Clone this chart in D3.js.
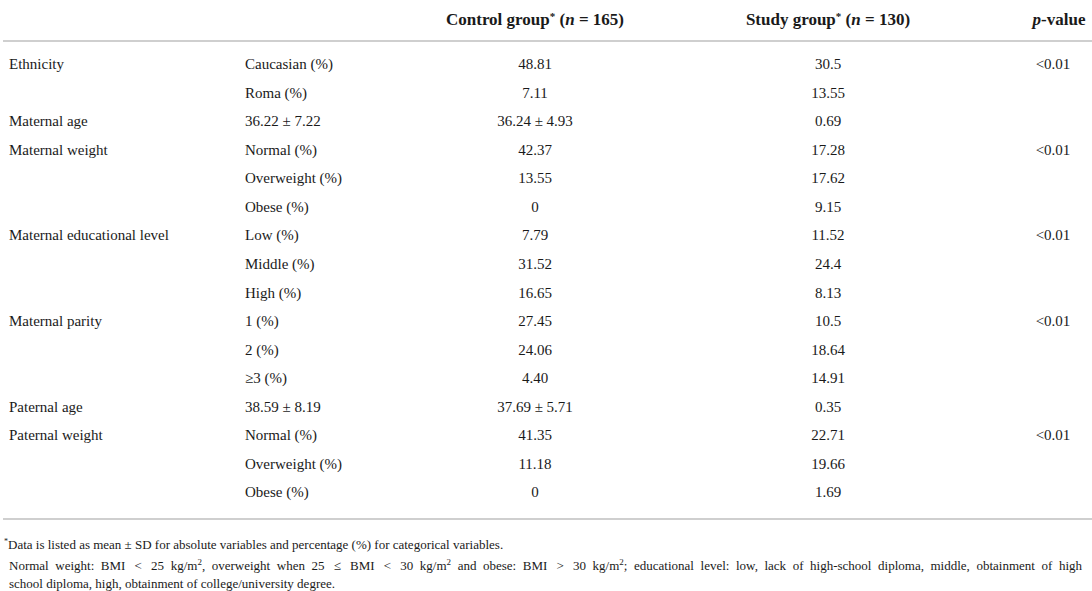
<!DOCTYPE html>
<html>
<head>
<meta charset="utf-8">
<script src="https://cdn.jsdelivr.net/npm/d3@7"></script>
<style>
  body { margin: 0; background: #fff; }
  text { font-family: "Liberation Serif", "DejaVu Serif", serif; fill: #1a1a1a; }
</style>
</head>
<body>
<svg class="tbl"></svg>
<script>
// Table contents
var variables = ["Ethnicity", "", "Maternal age", "Maternal weight", "", "",
    "Maternal educational level", "", "", "Maternal parity", "", "",
    "Paternal age", "Paternal weight", "", ""];
var categories = ["Caucasian (%)", "Roma (%)", "36.22 \u00b1 7.22", "Normal (%)", "Overweight (%)", "Obese (%)",
    "Low (%)", "Middle (%)", "High (%)", "1 (%)", "2 (%)", "\u22653 (%)",
    "38.59 \u00b1 8.19", "Normal (%)", "Overweight (%)", "Obese (%)"];
var controlValues = ["48.81", "7.11", "36.24 \u00b1 4.93", "42.37", "13.55", "0",
    "7.79", "31.52", "16.65", "27.45", "24.06", "4.40",
    "37.69 \u00b1 5.71", "41.35", "11.18", "0"];
var studyValues = ["30.5", "13.55", "0.69", "17.28", "17.62", "9.15",
    "11.52", "24.4", "8.13", "10.5", "18.64", "14.91",
    "0.35", "22.71", "19.66", "1.69"];
var pValues = ["<0.01", "", "", "<0.01", "", "",
    "<0.01", "", "", "<0.01", "", "",
    "", "<0.01", "", ""];
var controlN = 165, studyN = 130;

var w = 1092, h = 591;

var svg = d3.select(".tbl")
    .attr("width", w)
    .attr("height", h);

// row positions
var rows = d3.range(variables.length);
var yRow = d3.scalePoint()
    .domain(rows)
    .range([64, 492]);

// column anchors
var cols = [
    { key: "var", x: 9, anchor: "start", data: variables },
    { key: "cat", x: 245, anchor: "start", data: categories },
    { key: "ctl", x: 535, anchor: "middle", data: controlValues },
    { key: "stu", x: 828, anchor: "middle", data: studyValues },
    { key: "p", x: 1053, anchor: "middle", data: pValues }
];

// header
var head = svg.append("g").attr("font-weight", "bold").attr("font-size", "17px");

function groupHeader(x, label, n) {
    var t = head.append("text")
        .attr("x", x)
        .attr("y", 25)
        .attr("text-anchor", "middle");
    t.append("tspan").text(label);
    t.append("tspan").text("*").attr("font-size", "11px").attr("dy", -5);
    t.append("tspan").text(" (").attr("dy", 5);
    t.append("tspan").text("n").attr("font-style", "italic");
    t.append("tspan").text(" = " + n + ")");
}
groupHeader(535, "Control group", controlN);
groupHeader(828, "Study group", studyN);

var ph = head.append("text")
    .attr("x", 1059)
    .attr("y", 25)
    .attr("text-anchor", "middle");
ph.append("tspan").text("p").attr("font-style", "italic");
ph.append("tspan").text("-value");

// rules
svg.selectAll("line.rule")
    .data([41, 519])
    .enter().append("line")
    .attr("class", "rule")
    .attr("x1", 3)
    .attr("x2", w)
    .attr("y1", function(d) { return d; })
    .attr("y2", function(d) { return d; })
    .attr("stroke", "#cfcfcf")
    .attr("stroke-width", 2);

// body cells
var body = svg.append("g").attr("font-size", "15px");
cols.forEach(function(c) {
    body.append("g")
        .attr("class", "col-" + c.key)
        .selectAll("text")
        .data(rows)
        .enter().append("text")
        .attr("x", c.x)
        .attr("y", function(i) { return yRow(i); })
        .attr("dy", "0.35em")
        .attr("text-anchor", c.anchor)
        .text(function(i) { return c.data[i]; });
});

// footnotes
var foot = svg.append("g").attr("font-size", "13px");

var f1 = foot.append("text").attr("x", 4).attr("y", 549);
f1.append("tspan").text("*").attr("font-size", "8px").attr("dy", -5);
f1.append("tspan").text("Data is listed as mean \u00b1 SD for absolute variables and percentage (%) for categorical variables.").attr("dy", 5);

// second line: pieces, true = superscript
var f2 = foot.append("text").attr("x", 9).attr("y", 570);
var parts2 = [
    ["Normal weight: BMI \u2009<\u2009 25 kg/m", false], ["2", true],
    [", overweight when 25 \u2009\u2264\u2009 BMI \u2009<\u2009 30 kg/m", false], ["2", true],
    [" and obese: BMI \u2009>\u2009 30 kg/m", false], ["2", true],
    ["; educational level: low, lack of high-school diploma, middle, obtainment of high", false]
];
var prevSup = false;
parts2.forEach(function(p) {
    var dy = p[1] ? -5 : (prevSup ? 5 : 0);
    f2.append("tspan")
        .text(p[0])
        .attr("font-size", p[1] ? "9px" : null)
        .attr("dy", dy);
    prevSup = p[1];
});

// justify line 2 to the table width
var natural = f2.node().getComputedTextLength();
var spaces = parts2.map(function(p) { return p[0]; }).join("").split(" ").length - 1;
f2.attr("word-spacing", Math.max(0, (1082 - 9 - natural) / spaces));

foot.append("text").attr("x", 9).attr("y", 588)
    .text("school diploma, high, obtainment of college/university degree.");
</script>
</body>
</html>
